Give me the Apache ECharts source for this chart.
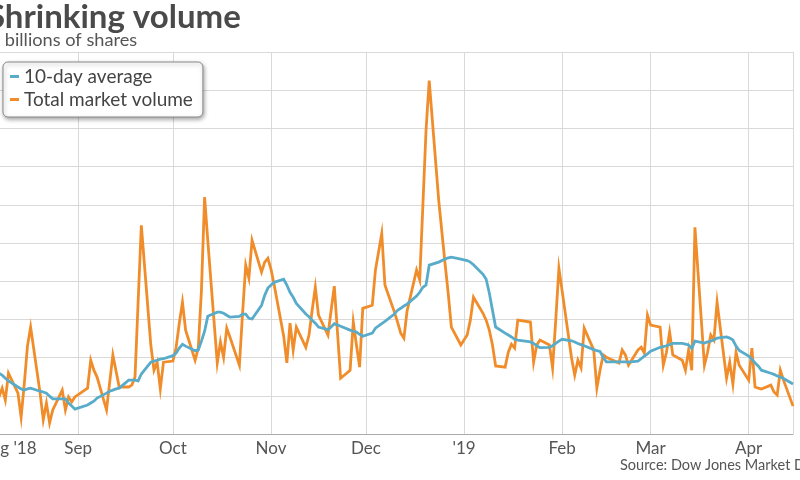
<!DOCTYPE html>
<html><head><meta charset="utf-8">
<script src="https://cdn.jsdelivr.net/npm/echarts@6/dist/echarts.min.js"></script>
<style>html,body{margin:0;padding:0;background:#fff}#c{width:800px;height:480px}</style>
</head><body><div id="c"></div>
<script>
// Trading days (day of month) and values, in billions of shares
const daysAug = [6,7,8,9,10,13,14,15,16,17,20,21,22,23,24,27,28,29,30,31];
const volAug = [6.20,5.97,6.20,5.89,6.59,6.07,5.44,6.31,7.30,7.80,6.07,5.37,5.81,5.29,5.63,6.15,5.63,5.97,5.84,5.97];
const avgAug = [6.67,6.59,6.54,6.46,6.39,6.23,6.18,6.15,6.18,6.20,6.12,6.10,6.07,5.99,5.92,5.92,5.92,5.81,5.73,5.65];

const daysSep = [4,5,6,7,10,11,12,13,14,17,18,19,20,21,24,25,26,27,28];
const volSep = [6.20,6.93,6.67,6.49,5.63,6.36,7.07,6.65,6.23,6.23,6.28,6.49,8.48,10.46,7.33,6.67,6.88,6.18,6.88];
const avgSep = [5.76,5.81,5.86,5.94,6.07,6.12,6.15,6.18,6.20,6.41,6.41,6.41,6.39,6.57,6.88,6.91,6.93,6.96,6.97];

const daysOct = [1,2,3,4,5,8,9,10,11,12,15,16,17,18,19,22,23,24,25,26,29,30,31];
const volOct = [6.91,7.27,7.90,8.45,7.72,6.93,7.25,8.76,11.20,10.07,6.86,7.41,7.01,7.77,7.54,6.80,8.16,9.42,9.08,10.07,9.24,9.50,9.60];
const avgOct = [7.05,7.12,7.25,7.35,7.30,7.18,7.20,7.43,7.69,8.08,8.19,8.19,8.16,8.11,8.06,8.08,8.14,8.14,8.03,8.01,8.37,8.63,8.82];

const daysNov = [1,2,5,6,7,8,9,12,13,14,15,16,19,20,21,23,26,27,28,29,30];
const volNov = [9.31,8.90,7.56,6.86,7.90,7.20,7.80,7.27,7.59,8.24,8.84,8.11,7.59,8.24,8.87,6.46,6.67,7.93,7.33,6.75,8.29];
const avgNov = [8.90,8.97,9.05,8.90,8.71,8.58,8.42,8.14,8.07,7.98,7.90,7.80,7.73,7.80,7.89,7.82,7.72,7.69,7.67,7.61,7.56];

const daysDec = [3,4,6,7,10,11,12,13,14,17,18,19,20,21,24,26,27,28,31];
const volDec = [8.37,9.29,10.25,8.90,8.19,7.93,7.64,7.51,8.22,9.29,9.03,10.99,12.95,14.25,11.12,9.47,8.69,7.80,7.33];
const avgDec = [7.64,7.77,7.89,7.95,8.14,8.24,8.29,8.35,8.40,8.61,8.71,8.84,8.90,9.42,9.50,9.58,9.61,9.63,9.58];

const daysJan = [2,3,4,7,8,9,10,11,14,15,16,17,18,22,23,24,25,28,29,30,31];
const volJan = [7.59,7.98,8.58,8.16,7.98,7.72,7.33,6.78,6.75,7.14,7.35,7.25,7.98,7.93,6.88,7.33,7.46,7.33,6.73,7.98,9.34];
const avgJan = [9.54,9.50,9.43,9.18,9.05,8.69,8.24,7.80,7.64,7.59,7.54,7.48,7.46,7.41,7.37,7.31,7.26,7.27,7.31,7.37,7.43];

const daysFeb = [1,4,5,6,7,8,11,12,13,14,15,19,20,21,22,25,26,27,28];
const volFeb = [8.76,6.99,6.54,6.93,6.73,7.77,7.20,6.20,6.67,7.07,7.01,6.86,7.20,7.07,6.80,7.20,7.27,7.12,8.11];
const avgFeb = [7.48,7.44,7.41,7.37,7.34,7.31,7.21,7.18,7.16,7.01,6.89,6.89,6.89,6.89,6.88,6.91,6.97,7.04,7.10];

const daysMar = [1,4,5,6,7,8,11,12,13,14,15,18,19,20,21,22,25,26,27,28,29];
const volMar = [7.85,7.80,6.80,7.14,7.67,7.07,6.93,6.67,7.20,6.67,10.41,6.80,7.14,7.59,7.46,8.45,6.46,6.88,6.31,7.14,6.80];
const avgMar = [7.17,7.27,7.29,7.31,7.34,7.37,7.37,7.35,7.33,7.24,7.43,7.38,7.41,7.43,7.47,7.51,7.54,7.51,7.46,7.30,7.19];

const daysApr = [1,2,3,4,5,8,9,10,11,12,15];
const volApr = [6.41,7.25,6.23,6.20,6.18,6.28,6.10,6.02,6.67,6.41,5.73];
const avgApr = [7.04,6.96,6.86,6.78,6.67,6.59,6.56,6.52,6.49,6.45,6.31];

const tickDates = ['2018-08-01','2018-09-01','2018-10-01','2018-11-01','2018-12-01','2019-01-01','2019-02-01','2019-03-01','2019-04-01'];
const tickLabels = ["Aug '18",'Sep','Oct','Nov','Dec',"'19",'Feb','Mar','Apr'];

const months = [
  ['2018-08', daysAug, volAug, avgAug], ['2018-09', daysSep, volSep, avgSep],
  ['2018-10', daysOct, volOct, avgOct], ['2018-11', daysNov, volNov, avgNov],
  ['2018-12', daysDec, volDec, avgDec], ['2019-01', daysJan, volJan, avgJan],
  ['2019-02', daysFeb, volFeb, avgFeb], ['2019-03', daysMar, volMar, avgMar],
  ['2019-04', daysApr, volApr, avgApr]
];
const pad = n => (n < 10 ? '0' : '') + n;
const volData = [], avgData = [];
months.forEach(([ym, days, vol, avg]) => {
  days.forEach((d, i) => {
    const key = ym + '-' + pad(d);
    volData.push([key, vol[i]]);
    avgData.push([key, avg[i]]);
  });
});
// calendar-day categories
const categories = [];
for (let t = Date.UTC(2018, 7, 1); t <= Date.UTC(2019, 3, 15); t += 86400000) {
  const dt = new Date(t);
  categories.push(dt.getUTCFullYear() + '-' + pad(dt.getUTCMonth() + 1) + '-' + pad(dt.getUTCDate()));
}
const lastIdx = categories.length - 1;

const chart = echarts.init(document.getElementById('c'), null, {renderer: 'canvas'});
chart.setOption({
  animation: false,
  backgroundColor: '#fff',
  textStyle: {fontFamily: 'Lato'},
  legend: {
    orient: 'vertical', left: 3, top: 62,
    data: ['10-day average', 'Total market volume'],
    icon: 'rect', itemWidth: 9, itemHeight: 3, itemGap: 4,
    padding: [5, 10, 8, 7],
    backgroundColor: '#fff', borderColor: '#8a8a8a', borderWidth: 1, borderRadius: 5,
    shadowBlur: 4, shadowColor: 'rgba(0,0,0,0.35)', shadowOffsetX: 1, shadowOffsetY: 2,
    textStyle: {fontFamily: 'Lato', fontSize: 19, color: '#444'}
  },
  grid: {left: -20, right: 7, top: 52, bottom: 46, containLabel: false, outerBoundsMode: 'none'},
  xAxis: {
    type: 'category', data: categories, boundaryGap: false,
    axisLine: {lineStyle: {color: '#aaa', width: 1}},
    axisTick: {show: false},
    axisLabel: {
      interval: (i, v) => tickDates.indexOf(v) >= 0,
      formatter: v => {
        const k = tickDates.indexOf(v);
        if (k === 0) return '{first|' + tickLabels[0] + '}';
        return k >= 0 ? tickLabels[k] : '';
      },
      color: '#555', fontSize: 17, fontFamily: 'Lato', margin: 6,
      rich: {first: {fontSize: 17, fontFamily: 'Lato', color: '#555', padding: [0, 0, 0, 56]}}
    },
    splitLine: {show: true, interval: (i, v) => tickDates.indexOf(v) > 0 || i === lastIdx,
      lineStyle: {color: '#d9d9d9', width: 1}}
  },
  yAxis: {
    type: 'value', min: 5, max: 15, interval: 1,
    axisLabel: {show: false}, axisLine: {show: false}, axisTick: {show: false},
    splitLine: {lineStyle: {color: '#d9d9d9', width: 1}}
  },
  series: [
    {name: 'Total market volume', type: 'line', data: volData, symbol: 'none', z: 2,
     lineStyle: {color: '#f08d2a', width: 2.8, join: 'miter'}, itemStyle: {color: '#f08d2a'}},
    {name: '10-day average', type: 'line', data: avgData, symbol: 'none', z: 3,
     lineStyle: {color: '#58acca', width: 2.8, join: 'miter'}, itemStyle: {color: '#58acca'}}
  ],
  graphic: [
    {type: 'text', x: -13, y: 1,
     style: {text: 'Shrinking volume', font: 'bold 33px Lato', fill: '#4a4a4a'}},
    {type: 'text', x: -15, y: 31,
     style: {text: 'In billions of shares', font: '18.2px Lato', fill: '#555'}},
    {type: 'text', x: 620, y: 458,
     style: {text: 'Source: Dow Jones Market Data', font: '14.5px Lato', fill: '#555'}}
  ]
});
</script></body></html>
